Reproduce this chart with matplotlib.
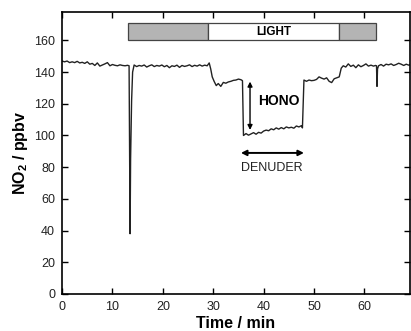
import matplotlib
matplotlib.use("Agg")
import matplotlib.pyplot as plt
from matplotlib.patches import Rectangle

plt.rcParams["font.family"] = ["Liberation Sans", "DejaVu Sans"]
plt.rcParams["mathtext.fontset"] = "custom"
plt.rcParams["mathtext.bf"] = "Liberation Sans:bold"
plt.rcParams["mathtext.rm"] = "Liberation Sans"

# NO2 trace (time in min, NO2 in ppbv)
time_min = [
    0.0, 0.5, 1.0, 1.5, 2.0, 2.5, 3.0, 3.5, 4.0, 4.5, 5.0, 5.5, 6.0, 6.5, 7.0, 7.5,
    8.0, 8.5, 9.0, 9.5, 10.0, 10.5, 11.0, 11.5, 12.0, 12.5, 13.0, 13.3, 13.4, 13.5,
    13.6, 13.8, 14.0, 14.3, 14.8, 15.3, 15.8, 16.3, 16.8, 17.3, 17.8, 18.3, 18.8,
    19.3, 19.8, 20.3, 20.8, 21.3, 21.8, 22.3, 22.8, 23.3, 23.8, 24.3, 24.8, 25.3,
    25.8, 26.3, 26.8, 27.3, 27.8, 28.3, 28.8, 29.2, 29.5, 29.8, 30.2, 30.6, 31.0,
    31.5, 32.0, 32.5, 33.0, 33.5, 34.0, 34.5, 35.0, 35.5, 35.8, 36.0, 36.5, 37.0,
    37.5, 38.0, 38.5, 39.0, 39.5, 40.0, 40.5, 41.0, 41.5, 42.0, 42.5, 43.0, 43.5,
    44.0, 44.5, 45.0, 45.5, 46.0, 46.5, 47.0, 47.5, 47.7, 48.0, 48.5, 49.0, 49.5,
    50.0, 50.5, 51.0, 51.5, 52.0, 52.5, 53.0, 53.5, 54.0, 54.5, 55.0, 55.4, 55.8,
    56.3, 56.8, 57.3, 57.8, 58.3, 58.8, 59.3, 59.8, 60.3, 60.8, 61.3, 61.8, 62.2,
    62.4, 62.5, 62.6, 62.8, 63.3, 63.8, 64.3, 64.8, 65.3, 65.8, 66.3, 66.8, 67.3,
    67.8, 68.3, 68.8, 69.0,
]
no2_ppbv = [
    147.0, 146.5, 147.0, 146.0, 146.5, 146.0, 146.8, 145.8, 146.2, 145.5, 146.5, 145.0,
    145.5, 144.2, 145.8, 143.8, 144.5, 145.2, 146.0, 144.0, 144.8, 144.3, 144.0, 144.6,
    144.2, 144.0, 144.3, 144.0, 90.0, 38.0, 85.0, 122.0, 140.0, 144.5, 143.5, 144.2,
    143.8, 144.5, 143.2, 144.0, 144.6, 143.5, 144.2, 143.8, 144.5, 143.4, 144.2, 142.8,
    144.0, 143.6, 144.4, 143.0, 144.2, 143.6, 144.0, 144.6, 143.5, 144.3, 143.8, 144.6,
    143.8, 144.4, 144.0, 145.8, 142.0, 137.0, 134.0, 131.5, 132.8, 131.0, 133.5, 133.0,
    133.8, 134.2, 134.8, 135.0, 135.6, 135.2, 134.6, 100.0, 101.2, 100.2, 101.0, 101.8,
    100.8, 102.0, 101.5, 102.8, 103.4, 103.0, 104.2, 103.6, 104.8, 104.0, 105.0, 104.2,
    105.4, 104.8, 105.2, 104.6, 106.0, 105.4, 106.2, 104.8, 135.0, 134.2, 135.0, 134.6,
    134.8, 135.4, 137.0, 136.2, 135.6, 136.4, 134.2, 133.4, 135.8, 136.4, 137.0, 142.5,
    144.0, 143.2, 145.2, 143.6, 144.4, 142.8, 144.6, 143.4, 144.2, 145.2, 143.8, 144.4,
    143.8, 144.2, 144.0, 131.0, 142.0, 144.0, 144.8, 143.8, 145.0, 144.6, 145.2, 144.2,
    144.8, 145.6, 145.0, 144.2, 145.0, 144.4, 144.6,
]

# light-period bar: (start, end, shaded)
light_bar_segments = [(13.1, 29.0, True), (29.0, 54.9, False), (54.9, 62.2, True)]
light_bar_y = (160.0, 171.0)

fig = plt.figure(figsize=(4.11, 3.31), dpi=100)
ax = fig.add_axes([0.151, 0.112, 0.846, 0.852])

ax.plot(time_min, no2_ppbv, color="#222222", lw=1.0)

for x0, x1, shaded in light_bar_segments:
    ax.add_patch(Rectangle((x0, light_bar_y[0]), x1 - x0, light_bar_y[1] - light_bar_y[0],
                           facecolor="#b4b4b4" if shaded else "white",
                           edgecolor="#444444", lw=0.9, zorder=3))
ax.text(42.0, 165.5, "LIGHT", ha="center", va="center", fontsize=8.5, fontweight="bold", zorder=4)

# HONO vertical double arrow
ax.annotate("", xy=(37.3, 103.5), xytext=(37.3, 134.0),
            arrowprops=dict(arrowstyle="<|-|>", color="black", lw=1.0,
                            mutation_scale=7, shrinkA=0, shrinkB=0))
ax.text(39.0, 122.0, "HONO", ha="left", va="center", fontsize=10, fontweight="bold")

# DENUDER horizontal double arrow
ax.annotate("", xy=(35.5, 89.0), xytext=(48.0, 89.0),
            arrowprops=dict(arrowstyle="<|-|>", color="black", lw=1.4,
                            mutation_scale=8, shrinkA=0, shrinkB=0))
ax.text(41.6, 79.5, "DENUDER", ha="center", va="center", fontsize=9, color="#222222")

ax.set_xlim(0, 69)
ax.set_ylim(0, 178)
ax.set_xticks(range(0, 70, 10))
ax.set_yticks(range(0, 161, 20))
ax.tick_params(direction="in", length=4, width=1.0, top=True, right=True,
               labelsize=9, pad=5, labelcolor="#222222")
for spine in ax.spines.values():
    spine.set_linewidth(1.2)

ax.set_xlabel("Time / min", fontsize=11.5, fontweight="bold", labelpad=2)
ax.set_ylabel(r"NO$_\mathbf{2}$ / ppbv", fontsize=11.5, fontweight="bold", labelpad=3)

fig.savefig("out.png", dpi=100)
